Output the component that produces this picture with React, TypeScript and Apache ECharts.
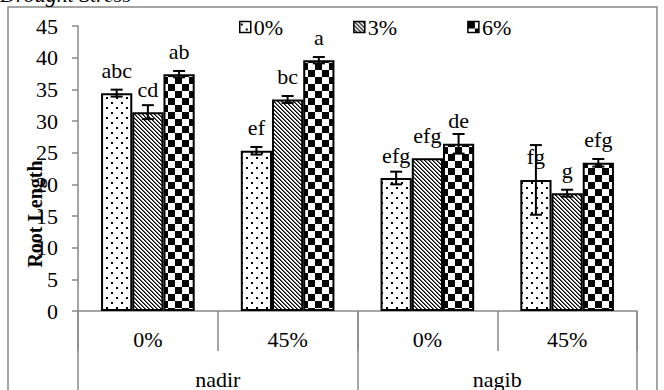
import React, { useEffect, useRef } from 'react';
import * as echarts from 'echarts';

const cultivars = ['nadir', 'nagib'];
const stressLevels = ['0%', '45%', '0%', '45%'];
const seriesNames = ['0%', '3%', '6%'];
const values0 = [34.4, 25.3, 21.0, 20.7];
const values3 = [31.4, 33.4, 24.1, 18.6];
const values6 = [37.4, 39.6, 26.4, 23.4];
const err0 = [0.55, 0.6, 1.0, 5.5];
const err3 = [1.1, 0.55, 0, 0.55];
const err6 = [0.5, 0.5, 1.55, 0.6];
const letters0 = ['abc', 'ef', 'efg', 'fg'];
const letters3 = ['cd', 'bc', 'efg', 'g'];
const letters6 = ['ab', 'a', 'de', 'efg'];
const yMin = 0;
const yMax = 45;
const yInterval = 5;

const FONT = 'Liberation Serif';
const GRAY = '#888888';
const CAT_GAP = 0.33;

function makeTile(w: number, h: number, draw: (ctx: CanvasRenderingContext2D) => void) {
  const c = document.createElement('canvas');
  c.width = w;
  c.height = h;
  const ctx = c.getContext('2d') as CanvasRenderingContext2D;
  ctx.fillStyle = '#ffffff';
  ctx.fillRect(0, 0, w, h);
  ctx.fillStyle = '#000000';
  draw(ctx);
  return { image: c.toDataURL(), repeat: 'repeat', imageWidth: w, imageHeight: h } as any;
}

function buildPatterns() {
  const dots = makeTile(10, 10, (ctx) => {
    ctx.fillRect(1, 2, 2, 2);
    ctx.fillRect(6, 7, 2, 2);
  });
  const diag = makeTile(4, 4, (ctx) => {
    for (let y = 0; y < 4; y++) {
      ctx.fillStyle = '#000';
      ctx.fillRect(y % 4, y, 1, 1);
      ctx.fillStyle = '#666';
      ctx.fillRect((y + 1) % 4, y, 1, 1);
    }
  });
  const checker = makeTile(14, 14, (ctx) => {
    ctx.fillRect(0, 0, 7, 7);
    ctx.fillRect(7, 7, 7, 7);
  });
  return [dots, diag, checker];
}

function errorSeries(idx: number, vals: number[], errs: number[]) {
  return {
    type: 'custom',
    name: 'err' + idx,
    z: 10,
    silent: true,
    data: vals.map((v, i) => [i, v, errs[i]]),
    encode: { x: 0, y: 1 },
    renderItem: (params: any, api: any) => {
      const ci = api.value(0);
      const v = api.value(1);
      const e = api.value(2);
      if (!e) return null;
      const band = api.size([1, 0])[0];
      const bw = (band * (1 - CAT_GAP)) / 3;
      const cx = api.coord([ci, v])[0] + (idx - 1) * bw;
      const top = api.coord([ci, v + e])[1];
      const bot = api.coord([ci, v - e])[1];
      const half = 6;
      const st = { stroke: '#000', lineWidth: 2 };
      return {
        type: 'group',
        children: [
          { type: 'line', shape: { x1: cx, y1: top, x2: cx, y2: bot }, style: st },
          { type: 'line', shape: { x1: cx - half, y1: top, x2: cx + half, y2: top }, style: st },
          { type: 'line', shape: { x1: cx - half, y1: bot, x2: cx + half, y2: bot }, style: st },
        ],
      };
    },
  };
}

export default function App() {
  const ref = useRef<HTMLDivElement>(null);
  useEffect(() => {
    if (!ref.current) return;
    const chart = echarts.init(ref.current, null, { renderer: 'svg' });
    const patterns = buildPatterns();
    const valueSets = [values0, values3, values6];
    const letterSets = [letters0, letters3, letters6];
    const errSets = [err0, err3, err6];

    const barSeries = seriesNames.map((name, si) => ({
      type: 'bar',
      name,
      data: valueSets[si],
      barGap: '0%',
      barCategoryGap: CAT_GAP * 100 + '%',
      itemStyle: { color: patterns[si], borderColor: '#000', borderWidth: 2 },
      label: {
        show: true,
        position: 'top',
        distance: 12,
        fontFamily: FONT,
        fontSize: 22,
        color: '#000',
        formatter: (p: any) => letterSets[si][p.dataIndex],
      },
    }));

    const option: any = {
      animation: false,
      textStyle: { fontFamily: FONT },
      grid: { left: 78, right: 27, top: 26, bottom: 75, containLabel: false },
      legend: {
        data: seriesNames,
        left: 234,
        top: 11,
        icon: 'rect',
        itemWidth: 11,
        itemHeight: 11,
        itemGap: 70,
        itemStyle: { borderColor: '#000', borderWidth: 1.5 },
        textStyle: { fontFamily: FONT, fontSize: 22, color: '#000', padding: [0, 0, 0, -2] },
      },
      xAxis: [
        {
          type: 'category',
          data: stressLevels,
          position: 'bottom',
          axisLine: { show: true, onZero: false, lineStyle: { color: GRAY, width: 1.5 } },
          axisTick: { show: true, length: 40, interval: 0, alignWithLabel: false, lineStyle: { color: GRAY, width: 1.5 } },
          axisLabel: { margin: 17, fontFamily: FONT, fontSize: 22, color: '#000', interval: 0 },
        },
        {
          type: 'category',
          data: cultivars,
          position: 'bottom',
          axisLine: { show: false, onZero: false },
          axisTick: { show: true, length: 80, interval: 0, alignWithLabel: false, lineStyle: { color: GRAY, width: 1.5 } },
          axisLabel: { margin: 57, fontFamily: FONT, fontSize: 22, color: '#000', interval: 0 },
        },
      ],
      yAxis: {
        type: 'value',
        min: yMin,
        max: yMax,
        interval: yInterval,
        splitLine: { show: false },
        axisLine: { show: true, lineStyle: { color: GRAY, width: 1.5 } },
        axisTick: { show: true, length: 6, lineStyle: { color: GRAY, width: 1.5 } },
        axisLabel: { margin: 20, fontFamily: FONT, fontSize: 22, color: '#000' },
      },
      series: [
        ...barSeries,
        ...seriesNames.map((_, si) => errorSeries(si, valueSets[si], errSets[si])),
      ],
      graphic: [
        {
          type: 'rect',
          shape: { x: 8, y: 7, width: 649, height: 400 },
          style: { fill: 'none', stroke: GRAY, lineWidth: 1.5 },
          silent: true,
          z: -1,
        },
        {
          type: 'text',
          x: 0,
          y: 5,
          style: {
            text: 'Drought Stress',
            font: 'italic 22px "Liberation Serif"',
            fill: '#000',
            verticalAlign: 'bottom',
            align: 'left',
          },
        },
        {
          type: 'text',
          x: 35,
          y: 214,
          rotation: Math.PI / 2,
          style: {
            text: 'Root Length',
            font: 'bold 20px "Liberation Serif"',
            fill: '#000',
            align: 'center',
            verticalAlign: 'middle',
          },
        },
      ],
    };
    chart.setOption(option);
    return () => chart.dispose();
  }, []);
  return <div ref={ref} style={{ position: 'absolute', left: 0, top: 0, width: 664, height: 390 }} />;
}
